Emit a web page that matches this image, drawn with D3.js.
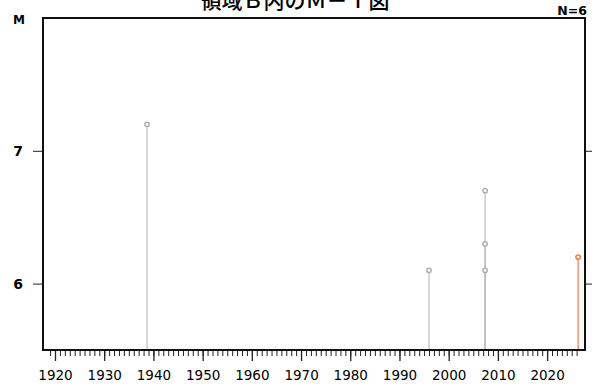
<!DOCTYPE html>
<html><head><meta charset="utf-8">
<script src="https://cdn.jsdelivr.net/npm/d3@7"></script>
<style>body{margin:0;background:#fff}svg{display:block}</style>
</head><body>
<script>
const title = "領域Ｂ内のＭ－Ｔ図";
const years = [1938.7, 1996.0, 2007.4, 2007.4, 2007.4, 2026.3];
const mags  = [7.2, 6.1, 6.7, 6.3, 6.1, 6.2];
const latest = [false, false, false, false, false, true];
const yTicks = [6, 7];
const xMajor = [1920,1930,1940,1950,1960,1970,1980,1990,2000,2010,2020];

const W = 592, H = 385;
const m = {l:43, r:585, t:18, b:350};
const svg = d3.select("body").append("svg").attr("width",W).attr("height",H);
const x = d3.scaleLinear().domain([1917.56, 2027.7]).range([m.l, m.r]);
const y = d3.scaleLinear().domain([5.5, 8.0]).range([m.b, m.t]);

// title (partly above the top edge, as in the reference)
svg.append("text").attr("x",295).attr("y",8).attr("text-anchor","middle")
  .attr("font-family","Noto Sans CJK JP").attr("font-weight","500").attr("font-size",21)
  .text(title);
svg.append("text").attr("x",587).attr("y",15).attr("text-anchor","end")
  .attr("font-family","DejaVu Sans").attr("font-weight","bold").attr("font-size",12.5).text("N=" + years.length);
svg.append("text").attr("x",19).attr("y",24).attr("text-anchor","middle")
  .attr("font-family","DejaVu Sans").attr("font-weight","bold").attr("font-size",12).text("M");

// x axis minor ticks
const minor = d3.range(1919, 2027);
svg.append("g").attr("transform",`translate(0,${m.b})`)
  .call(d3.axisBottom(x).tickValues(minor).tickSize(6).tickFormat(""))
  .call(g=>{g.select(".domain").remove(); g.selectAll("line").attr("stroke","#222").attr("stroke-width",1);});
svg.append("g").attr("transform",`translate(0,${m.b})`)
  .call(d3.axisBottom(x).tickValues(xMajor).tickSize(11).tickPadding(9).tickFormat(d3.format("d")))
  .call(g=>{g.select(".domain").remove(); g.selectAll("line").attr("stroke","#222").attr("stroke-width",1.3);
    g.selectAll("text").attr("font-family","DejaVu Sans").attr("font-size",13.5).attr("fill","#000");});

// y axes
svg.append("g").attr("transform",`translate(${m.l},0)`)
  .call(d3.axisLeft(y).tickValues(yTicks).tickSize(10).tickPadding(10).tickFormat(d3.format("d")))
  .call(g=>{g.select(".domain").remove(); g.selectAll("line").attr("stroke","#222");
    g.selectAll("text").attr("font-family","DejaVu Sans").attr("font-weight","bold").attr("font-size",14).attr("fill","#000");});
svg.append("g").attr("transform",`translate(${m.r},0)`)
  .call(d3.axisRight(y).tickValues(yTicks).tickSize(8).tickFormat(""))
  .call(g=>{g.select(".domain").remove(); g.selectAll("line").attr("stroke","#222");});

// stems & points
const pts = years.map((d,i)=>({yr:d, mg:mags[i], hl:latest[i]}));
svg.append("g").selectAll("line").data(pts).join("line")
  .attr("x1",d=>x(d.yr)).attr("x2",d=>x(d.yr))
  .attr("y1",d=>y(d.mg)).attr("y2",m.b)
  .attr("stroke",d=>d.hl?"#f47a52":"#bdbdbd").attr("stroke-width",1.2);
svg.append("g").selectAll("circle").data(pts).join("circle")
  .attr("cx",d=>x(d.yr)).attr("cy",d=>y(d.mg)).attr("r",2.2)
  .attr("fill","#fff").attr("stroke",d=>d.hl?"#f26a3e":"#a8a8a8").attr("stroke-width",1.3);

// frame
svg.append("rect").attr("x",m.l).attr("y",m.t).attr("width",m.r-m.l).attr("height",m.b-m.t)
  .attr("fill","none").attr("stroke","#111").attr("stroke-width",2);
</script>
</body></html>
